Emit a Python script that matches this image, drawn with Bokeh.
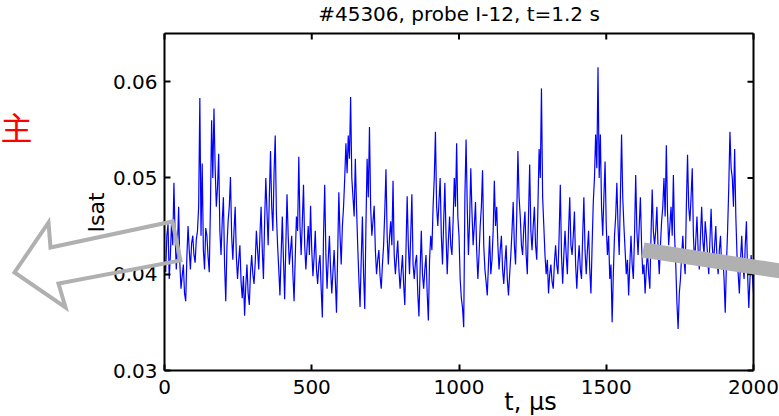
import numpy as np
from bokeh.plotting import figure
from bokeh.models import Range1d, FixedTicker, Label, PolyAnnotation
from bokeh.embed import file_html
from bokeh.resources import INLINE

# ---------------- data ----------------
title_text = "#45306, probe I-12, t=1.2 s"
x_label = "t, μs"
y_label = "Isat"
side_text = "主"
x_ticks = [0, 500, 1000, 1500, 2000]
x_tick_labels = ["0", "500", "1000", "1500", "2000"]
y_ticks = [0.03, 0.04, 0.05, 0.06]
y_tick_labels = ["0.03", "0.04", "0.05", "0.06"]
x_lim = [0, 2000]
y_lim = [0.03, 0.065]

dt_us = 4  # sampling step of the values below, microseconds
isat = [
    0.0415, 0.0402, 0.0440, 0.0452, 0.0395, 0.0420, 0.0455, 0.0430, 0.0495, 0.0440,
    0.0405, 0.0428, 0.0470, 0.0412, 0.0385, 0.0398, 0.0410, 0.0380, 0.0372, 0.0418,
    0.0450, 0.0425, 0.0405, 0.0432, 0.0440, 0.0420, 0.0412, 0.0436, 0.0445, 0.0470,
    0.0583, 0.0440, 0.0515, 0.0425, 0.0405, 0.0448, 0.0440, 0.0418, 0.0402, 0.0470,
    0.0560, 0.0500, 0.0572, 0.0510, 0.0470, 0.0490, 0.0525, 0.0445, 0.0420, 0.0455,
    0.0480, 0.0410, 0.0372, 0.0428, 0.0455, 0.0470, 0.0501, 0.0440, 0.0415, 0.0445,
    0.0470, 0.0418, 0.0395, 0.0415, 0.0430, 0.0392, 0.0375, 0.0398, 0.0357, 0.0388,
    0.0410, 0.0380, 0.0368, 0.0402, 0.0420, 0.0400, 0.0390, 0.0412, 0.0445, 0.0425,
    0.0405, 0.0440, 0.0470, 0.0425, 0.0395, 0.0455, 0.0500, 0.0465, 0.0430, 0.0480,
    0.0528, 0.0470, 0.0445, 0.0505, 0.0544, 0.0462, 0.0430, 0.0405, 0.0378, 0.0420,
    0.0460, 0.0415, 0.0374, 0.0430, 0.0483, 0.0440, 0.0410, 0.0425, 0.0440, 0.0400,
    0.0372, 0.0418, 0.0460, 0.0445, 0.0522, 0.0450, 0.0420, 0.0455, 0.0493, 0.0430,
    0.0405, 0.0428, 0.0450, 0.0420, 0.0471, 0.0425, 0.0398, 0.0418, 0.0445, 0.0405,
    0.0390, 0.0410, 0.0420, 0.0385, 0.0355, 0.0440, 0.0493, 0.0420, 0.0385, 0.0415,
    0.0440, 0.0405, 0.0380, 0.0402, 0.0425, 0.0395, 0.0360, 0.0420, 0.0485, 0.0440,
    0.0410, 0.0450, 0.0470, 0.0500, 0.0536, 0.0505, 0.0544, 0.0520, 0.0584, 0.0500,
    0.0480, 0.0460, 0.0520, 0.0470, 0.0430, 0.0395, 0.0366, 0.0415, 0.0460, 0.0400,
    0.0364, 0.0450, 0.0520, 0.0480, 0.0553, 0.0470, 0.0440, 0.0455, 0.0471, 0.0425,
    0.0400, 0.0415, 0.0425, 0.0398, 0.0385, 0.0410, 0.0430, 0.0465, 0.0509, 0.0440,
    0.0410, 0.0438, 0.0455, 0.0430, 0.0497, 0.0420, 0.0400, 0.0418, 0.0435, 0.0405,
    0.0385, 0.0402, 0.0420, 0.0390, 0.0368, 0.0425, 0.0481, 0.0430, 0.0400, 0.0440,
    0.0483, 0.0410, 0.0395, 0.0412, 0.0420, 0.0380, 0.0356, 0.0405, 0.0445, 0.0400,
    0.0385, 0.0405, 0.0420, 0.0380, 0.0352, 0.0415, 0.0440, 0.0425, 0.0470, 0.0500,
    0.0548, 0.0470, 0.0450, 0.0475, 0.0500, 0.0440, 0.0410, 0.0455, 0.0495, 0.0440,
    0.0400, 0.0435, 0.0460, 0.0430, 0.0420, 0.0455, 0.0500, 0.0470, 0.0536, 0.0460,
    0.0440, 0.0395, 0.0375, 0.0365, 0.0345, 0.0480, 0.0540, 0.0470, 0.0420, 0.0455,
    0.0510, 0.0465, 0.0430, 0.0450, 0.0475, 0.0425, 0.0395, 0.0420, 0.0450, 0.0470,
    0.0508, 0.0430, 0.0405, 0.0392, 0.0378, 0.0410, 0.0440, 0.0400, 0.0415, 0.0445,
    0.0497, 0.0450, 0.0470, 0.0430, 0.0405, 0.0425, 0.0440, 0.0405, 0.0390, 0.0412,
    0.0430, 0.0395, 0.0378, 0.0400, 0.0420, 0.0445, 0.0475, 0.0430, 0.0410, 0.0460,
    0.0528, 0.0480, 0.0460, 0.0430, 0.0420, 0.0448, 0.0465, 0.0420, 0.0400, 0.0460,
    0.0514, 0.0445, 0.0425, 0.0450, 0.0470, 0.0430, 0.0415, 0.0470, 0.0530, 0.0500,
    0.0593, 0.0480, 0.0450, 0.0420, 0.0400, 0.0415, 0.0380, 0.0400, 0.0410, 0.0392,
    0.0385, 0.0412, 0.0430, 0.0410, 0.0400, 0.0440, 0.0493, 0.0420, 0.0390, 0.0420,
    0.0445, 0.0420, 0.0400, 0.0445, 0.0480, 0.0430, 0.0420, 0.0440, 0.0465, 0.0410,
    0.0385, 0.0412, 0.0430, 0.0405, 0.0395, 0.0440, 0.0480, 0.0425, 0.0400, 0.0425,
    0.0445, 0.0405, 0.0380, 0.0430, 0.0475, 0.0500, 0.0545, 0.0510, 0.0615, 0.0500,
    0.0545, 0.0470, 0.0440, 0.0480, 0.0517, 0.0450, 0.0420, 0.0440, 0.0395, 0.0410,
    0.0350, 0.0400, 0.0440, 0.0460, 0.0495, 0.0450, 0.0420, 0.0480, 0.0545, 0.0480,
    0.0450, 0.0425, 0.0400, 0.0415, 0.0378, 0.0410, 0.0440, 0.0410, 0.0395, 0.0440,
    0.0503, 0.0445, 0.0420, 0.0450, 0.0480, 0.0430, 0.0400, 0.0410, 0.0380, 0.0405,
    0.0425, 0.0400, 0.0385, 0.0440, 0.0488, 0.0445, 0.0430, 0.0445, 0.0470, 0.0425,
    0.0400, 0.0430, 0.0455, 0.0470, 0.0500, 0.0460, 0.0534, 0.0465, 0.0430, 0.0450,
    0.0470, 0.0440, 0.0503, 0.0440, 0.0410, 0.0370, 0.0343, 0.0380, 0.0395, 0.0420,
    0.0440, 0.0415, 0.0400, 0.0470, 0.0524, 0.0470, 0.0455, 0.0480, 0.0510, 0.0440,
    0.0410, 0.0435, 0.0460, 0.0425, 0.0405, 0.0440, 0.0470, 0.0435, 0.0420, 0.0455,
    0.0440, 0.0420, 0.0400, 0.0435, 0.0468, 0.0430, 0.0410, 0.0430, 0.0450, 0.0415,
    0.0400, 0.0425, 0.0440, 0.0405, 0.0420, 0.0395, 0.0360, 0.0410, 0.0445, 0.0490,
    0.0548, 0.0510, 0.0500, 0.0470, 0.0530, 0.0460, 0.0420, 0.0400, 0.0380, 0.0415,
    0.0440, 0.0410, 0.0395, 0.0430, 0.0455, 0.0400, 0.0365, 0.0395, 0.0420, 0.0400,
    0.0380,
]
t_us = np.arange(len(isat)) * dt_us

# ---------------- layout (pixels) ----------------
W, H = 779, 416
BOX_L, BOX_R, BOX_T, BOX_B = 164, 753, 33, 370   # axes box inside the canvas
sx = (x_lim[1] - x_lim[0]) / (BOX_R - BOX_L)       # data units per pixel
sy = (y_lim[1] - y_lim[0]) / (BOX_B - BOX_T)


def px_x(x):
    return x_lim[0] + (x - BOX_L) * sx


def px_y(y):
    return y_lim[0] + (BOX_B - y) * sy


# the plotting frame fills the whole canvas; the MATLAB-like box sits inside it
p = figure(width=W, height=H,
           x_range=Range1d(px_x(0), px_x(W)), y_range=Range1d(px_y(H), px_y(0)),
           output_backend="svg", toolbar_location=None,
           min_border_left=0, min_border_right=0, min_border_top=0, min_border_bottom=0)
p.title.visible = False
p.grid.visible = False
p.background_fill_color = "white"
p.border_fill_color = "white"
p.outline_line_color = None

FONT = "DejaVu Sans"


def style_axis(ax, ticks, labels, loc, bounds, standoff):
    ax.fixed_location = loc
    ax.bounds = tuple(bounds)
    ax.ticker = FixedTicker(ticks=ticks)
    ax.minor_tick_line_color = None
    ax.major_tick_in = 6
    ax.major_tick_out = 0
    ax.major_tick_line_width = 2
    ax.major_tick_line_color = "black"
    ax.axis_line_color = "black"
    ax.axis_line_width = 2
    ax.major_label_overrides = {tk: lb for tk, lb in zip(ticks, labels)}
    ax.major_label_text_font = FONT
    ax.major_label_text_font_size = "20px"
    ax.major_label_text_color = "black"
    ax.major_label_standoff = standoff


style_axis(p.xaxis[0], x_ticks, x_tick_labels, y_lim[0], x_lim, 9)
style_axis(p.yaxis[0], y_ticks, y_tick_labels, x_lim[0], y_lim, 7)

p.line(t_us, isat, line_color="#0000ff", line_width=1.2)

# top and right edges of the box, with inward ticks
p.segment(x0=[x_lim[0], x_lim[1]], y0=[y_lim[1], y_lim[0]],
          x1=[x_lim[1], x_lim[1]], y1=[y_lim[1], y_lim[1]],
          line_color="black", line_width=2)
tick_len = 6
p.segment(x0=x_ticks, y0=[y_lim[1]] * len(x_ticks), x1=x_ticks,
          y1=[y_lim[1] - tick_len * sy] * len(x_ticks), line_color="black", line_width=2)
p.segment(x0=[x_lim[1]] * len(y_ticks), y0=y_ticks,
          x1=[x_lim[1] - tick_len * sx] * len(y_ticks), y1=y_ticks,
          line_color="black", line_width=2)

# texts
p.add_layout(Label(x=px_x(458.5), y=px_y(13), text=title_text, text_align="center",
                   text_baseline="middle", text_font=FONT, text_font_size="20px",
                   text_color="black"))
p.add_layout(Label(x=px_x(530), y=px_y(401), text=x_label, text_align="center",
                   text_baseline="middle", text_font=FONT, text_font_size="24px",
                   text_color="black"))
p.add_layout(Label(x=px_x(96), y=px_y(212), text=y_label, text_align="center",
                   text_baseline="middle", angle=np.pi / 2, text_font=FONT,
                   text_font_size="22px", text_color="black"))
p.add_layout(Label(x=px_x(0), y=px_y(125), text=side_text, text_align="left",
                   text_baseline="middle", text_font="Noto Sans CJK SC",
                   text_font_size="32px", text_color="#ff0000"))

# gray arrows (slide decoration)
gray = "#b0b0b0"
left_arrow_px = [(172, 221), (180, 260), (58, 283), (65, 307), (14, 272), (48, 222), (50, 247)]
p.add_layout(PolyAnnotation(xs=[px_x(a) for a, b in left_arrow_px],
                            ys=[px_y(b) for a, b in left_arrow_px],
                            fill_color=None, fill_alpha=0, line_color=gray, line_alpha=1,
                            line_width=4, line_join="miter"))
right_bar_px = [(644, 242), (641, 257), (800, 281), (800, 266)]
p.add_layout(PolyAnnotation(xs=[px_x(a) for a, b in right_bar_px],
                            ys=[px_y(b) for a, b in right_bar_px],
                            fill_color=gray, fill_alpha=1, line_color=None))

open("out.html", "w").write(file_html(p, INLINE))
